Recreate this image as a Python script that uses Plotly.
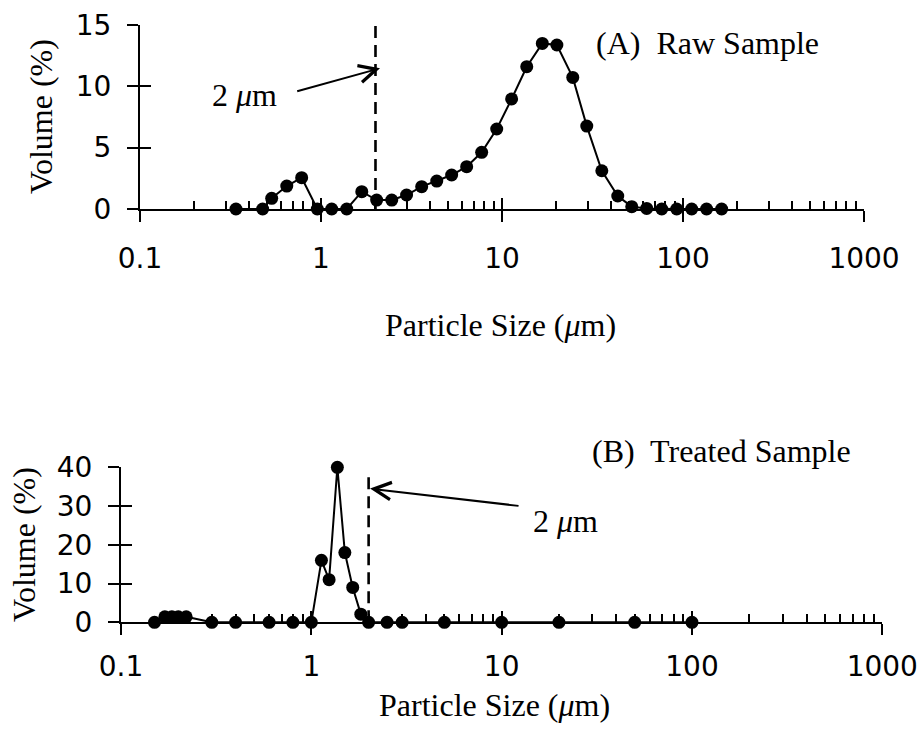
import plotly.graph_objects as go

# ---------------- data ----------------
raw_size = [0.339, 0.476, 0.534, 0.647, 0.782, 0.954, 1.146, 1.387, 1.68, 2.03,
            2.46, 2.97, 3.60, 4.36, 5.27, 6.38, 7.72, 9.35, 11.3, 13.7,
            16.7, 20.1, 24.6, 29.4, 35.6, 43.6, 52.1, 63.0, 76.3, 92.3,
            111.7, 135.0, 163.5]
raw_volume = [0, 0, 0.87, 1.87, 2.55, 0, 0, 0, 1.41, 0.73,
              0.73, 1.14, 1.82, 2.28, 2.77, 3.45, 4.62, 6.52, 8.97, 11.6,
              13.5, 13.37, 10.73, 6.76, 3.12, 1.06, 0.19, 0.05, 0, 0,
              0, 0, 0]

treated_size = [0.15, 0.17, 0.185, 0.2, 0.22, 0.3, 0.4, 0.6, 0.8, 1.0,
                1.13, 1.24, 1.37, 1.5, 1.65, 1.82, 2.0, 2.5, 3.0, 5.0,
                10, 20, 50, 100]
treated_volume = [0, 1.4, 1.4, 1.4, 1.4, 0, 0, 0, 0, 0,
                  16, 11, 40, 18, 9, 2.1, 0, 0, 0, 0,
                  0, 0, 0, 0]

x_tick_vals = [0.1, 1, 10, 100, 1000]
x_tick_text = ["0.1", "1", "10", "100", "1000"]
x_minor_vals = [m * 10.0 ** e for e in range(-1, 3) for m in range(2, 10)]
raw_y_ticks = [0, 5, 10, 15]
treated_y_ticks = [0, 10, 20, 30, 40]

cutoff_size = 2
raw_cutoff_span = [0, 15]
treated_cutoff_span = [0, 38.5]

# ---------------- styling ----------------
SERIF = "Liberation Serif"
SANS = "DejaVu Sans"
BLACK = "black"
TICK_FONT = dict(family=SANS, size=28, color=BLACK)
SERIF_FONT = dict(family=SERIF, size=32, color=BLACK)

top_x_dom = [140 / 923, 864 / 923]
top_y_dom = [(736 - 209) / 736, (736 - 25) / 736]
bot_x_dom = [121 / 923, 882.3 / 923]
bot_y_dom = [(736 - 622.3) / 736, (736 - 467.3) / 736]

fig = go.Figure()

series_style = dict(mode="lines+markers",
                    marker=dict(size=13, color=BLACK),
                    line=dict(color=BLACK, width=2),
                    cliponaxis=False, showlegend=False, hoverinfo="skip")

fig.add_trace(go.Scatter(x=raw_size, y=raw_volume, xaxis="x", yaxis="y", **series_style))
fig.add_trace(go.Scatter(x=treated_size, y=treated_volume, xaxis="x2", yaxis="y2", **series_style))

dash_style = dict(mode="lines", line=dict(color=BLACK, width=2.6, dash="12px,7px"),
                  showlegend=False, hoverinfo="skip")
fig.add_trace(go.Scatter(x=[cutoff_size, cutoff_size], y=raw_cutoff_span,
                         xaxis="x", yaxis="y", **dash_style))
fig.add_trace(go.Scatter(x=[cutoff_size, cutoff_size], y=treated_cutoff_span,
                         xaxis="x2", yaxis="y2", **dash_style))

# dummy traces so the overlay (inside-tick) axes exist
fig.add_trace(go.Scatter(x=[None], y=[None], xaxis="x3", yaxis="y3", showlegend=False, hoverinfo="skip"))
fig.add_trace(go.Scatter(x=[None], y=[None], xaxis="x4", yaxis="y4", showlegend=False, hoverinfo="skip"))


def main_x(domain, anchor, standoff):
    return dict(type="log", range=[-1, 3], domain=domain, anchor=anchor,
                showline=True, linecolor=BLACK, linewidth=2,
                ticks="outside", ticklen=11, tickwidth=2, tickcolor=BLACK,
                tickmode="array", tickvals=x_tick_vals, ticktext=x_tick_text,
                tickfont=TICK_FONT, ticklabelstandoff=standoff, automargin=False,
                showgrid=False, zeroline=False, fixedrange=True)


def overlay_x(over, anchor, domain):
    return dict(type="log", range=[-1, 3], domain=domain, overlaying=over, anchor=anchor,
                showline=False, ticks="inside", ticklen=11, tickwidth=2, tickcolor=BLACK,
                tickmode="array", tickvals=x_tick_vals, showticklabels=False, automargin=False,
                minor=dict(ticks="inside", ticklen=8, tickwidth=2, tickcolor=BLACK,
                           tickmode="array", tickvals=x_minor_vals, showgrid=False),
                showgrid=False, zeroline=False, fixedrange=True)


def main_y(domain, anchor, rng, vals, standoff):
    return dict(range=rng, domain=domain, anchor=anchor,
                showline=True, linecolor=BLACK, linewidth=2,
                ticks="outside", ticklen=11, tickwidth=2, tickcolor=BLACK,
                tickmode="array", tickvals=vals, ticktext=[str(v) for v in vals],
                tickfont=TICK_FONT, ticklabelstandoff=standoff, automargin=False,
                showgrid=False, zeroline=False, fixedrange=True)


def overlay_y(over, anchor, domain, rng, vals):
    return dict(range=rng, domain=domain, overlaying=over, anchor=anchor,
                showline=False, ticks="inside", ticklen=11, tickwidth=2, tickcolor=BLACK,
                tickmode="array", tickvals=vals, showticklabels=False, automargin=False,
                showgrid=False, zeroline=False, fixedrange=True)


raw_range = [raw_y_ticks[0], raw_y_ticks[-1]]
treated_range = [treated_y_ticks[0], treated_y_ticks[-1]]

annotations = [
    # panel labels
    dict(text="(A)  Raw Sample", xref="paper", yref="paper", x=707.5 / 923, y=(736 - 43) / 736,
         showarrow=False, font=SERIF_FONT, xanchor="center", yanchor="middle"),
    dict(text="(B)  Treated Sample", xref="paper", yref="paper", x=721 / 923, y=(736 - 451) / 736,
         showarrow=False, font=SERIF_FONT, xanchor="center", yanchor="middle"),
    # axis titles
    dict(text="Particle Size (<i>μ</i>m)", xref="paper", yref="paper", x=500 / 923, y=(736 - 325) / 736,
         showarrow=False, font=SERIF_FONT, xanchor="center", yanchor="middle"),
    dict(text="Volume (%)", xref="paper", yref="paper", x=41 / 923, y=(736 - 117) / 736,
         showarrow=False, font=SERIF_FONT, textangle=-90, xanchor="center", yanchor="middle"),
    dict(text="Particle Size (<i>μ</i>m)", xref="paper", yref="paper", x=495 / 923, y=(736 - 705) / 736,
         showarrow=False, font=SERIF_FONT, xanchor="center", yanchor="middle"),
    dict(text="Volume (%)", xref="paper", yref="paper", x=24 / 923, y=(736 - 545) / 736,
         showarrow=False, font=SERIF_FONT, textangle=-90, xanchor="center", yanchor="middle"),
    # 2 um labels (x in log10 units for log axes)
    dict(text="2 <i>μ</i>m", xref="x", yref="y", x=-0.4254, y=9.3,
         showarrow=False, font=SERIF_FONT, xanchor="center", yanchor="middle"),
    dict(text="", xref="x", yref="y", x=0.326, y=11.47, axref="x", ayref="y", ax=-0.1398, ay=9.56,
         showarrow=True, arrowhead=5, arrowsize=1.7, arrowwidth=2, arrowcolor=BLACK),
    dict(text="2 <i>μ</i>m", xref="x2", yref="y2", x=1.3358, y=26.1,
         showarrow=False, font=SERIF_FONT, xanchor="center", yanchor="middle"),
    dict(text="", xref="x2", yref="y2", x=0.3085, y=34.5, axref="x2", ayref="y2", ax=1.0967, ay=30.0,
         showarrow=True, arrowhead=5, arrowsize=1.7, arrowwidth=2, arrowcolor=BLACK),
]

fig.update_layout(
    width=923, height=736,
    margin=dict(l=0, r=0, t=0, b=0, pad=0, autoexpand=False),
    paper_bgcolor="white", plot_bgcolor="white",
    showlegend=False,
    xaxis=main_x(top_x_dom, "y", 12),
    yaxis=main_y(top_y_dom, "x", raw_range, raw_y_ticks, 10),
    xaxis2=main_x(bot_x_dom, "y2", 7),
    yaxis2=main_y(bot_y_dom, "x2", treated_range, treated_y_ticks, 10),
    xaxis3=overlay_x("x", "y3", top_x_dom),
    yaxis3=overlay_y("y", "x3", top_y_dom, raw_range, raw_y_ticks),
    xaxis4=overlay_x("x2", "y4", bot_x_dom),
    yaxis4=overlay_y("y2", "x4", bot_y_dom, treated_range, treated_y_ticks),
    annotations=annotations,
)

fig.write_html("out.html")
